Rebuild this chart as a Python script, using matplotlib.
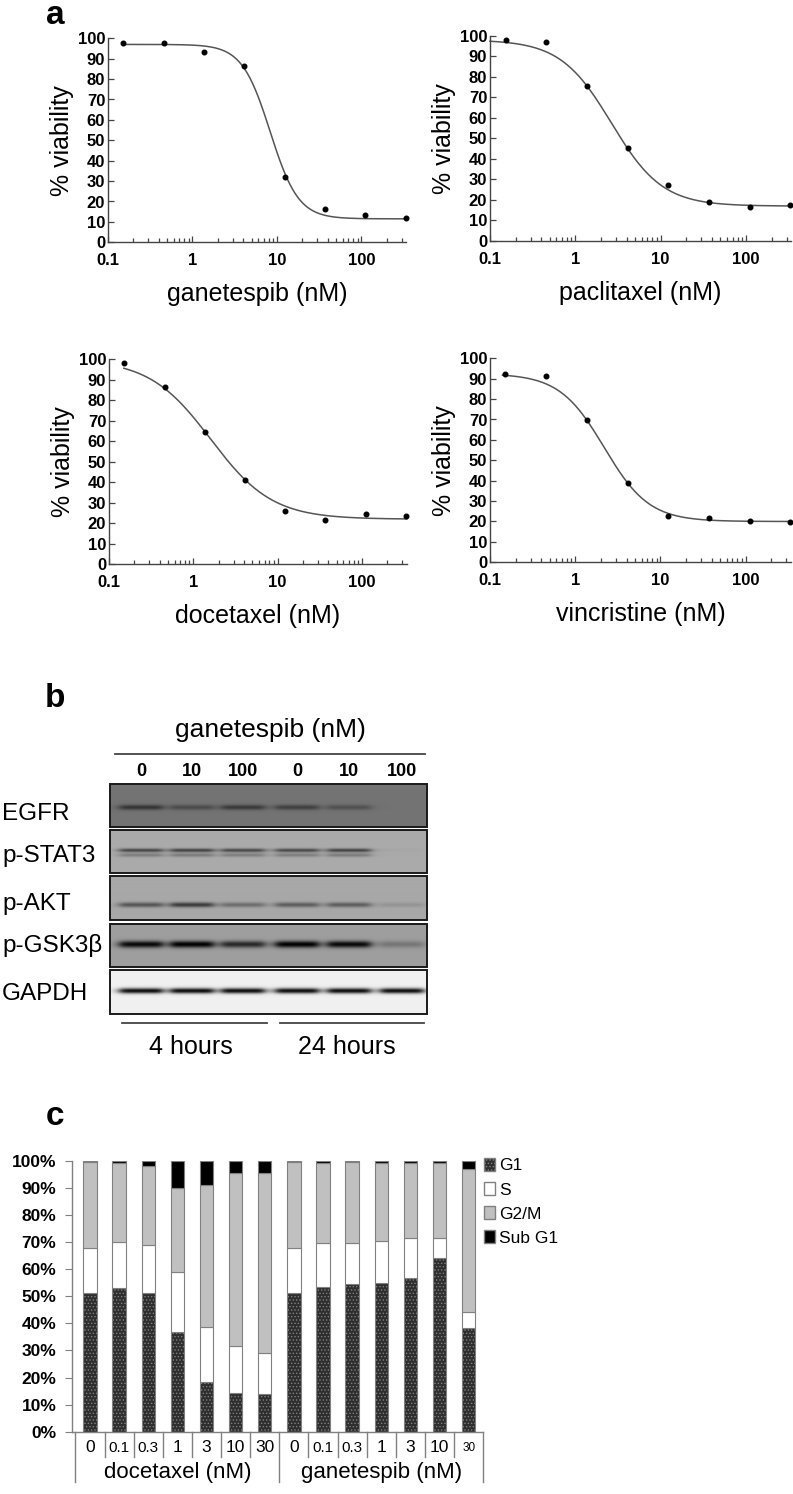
import numpy as np
import matplotlib
matplotlib.use('Agg')
import matplotlib.pyplot as plt
from matplotlib.patches import Rectangle, Patch

plt.rcParams['font.family'] = ['Liberation Sans', 'DejaVu Sans']
plt.rcParams['hatch.linewidth'] = 0.6

W, H = 793, 1494

# ---- panel a: viability vs dose ----
doses = [0.152, 0.457, 1.37, 4.12, 12.3, 37.0, 111, 333]
ganetespib_viab = [97.5, 97.7, 93.1, 86.6, 32.2, 16.2, 13.4, 12.0]
paclitaxel_viab = [98.1, 96.7, 75.5, 45.1, 27.1, 18.8, 16.7, 17.4]
docetaxel_viab = [98.0, 86.3, 64.7, 41.3, 25.9, 21.8, 24.6, 23.5]
vincristine_viab = [92.2, 91.3, 69.6, 38.9, 22.5, 21.6, 20.3, 19.6]
# fitted curves: top, bottom, IC50 (nM), hill slope
ganetespib_fit = [97.0, 11.5, 8.3, 2.6]
paclitaxel_fit = [98.0, 17.0, 2.65, 1.45]
docetaxel_fit = [100.0, 22.0, 1.61, 1.19]
vincristine_fit = [92.5, 20.0, 2.19, 1.65]
drug_names = ['ganetespib', 'paclitaxel', 'docetaxel', 'vincristine']

# ---- panel b: western blot ----
lane_labels = ['0', '10', '100', '0', '10', '100']
blot_rows = ['EGFR', 'p-STAT3', 'p-AKT', 'p-GSK3β', 'GAPDH']
egfr_bands = [0.55, 0.35, 0.5, 0.45, 0.3, 0.0]
pstat3_bands = [0.6, 0.62, 0.58, 0.58, 0.62, 0.03]
pakt_bands = [0.5, 0.65, 0.35, 0.45, 0.45, 0.12]
pgsk3b_bands = [0.95, 1.0, 0.75, 1.0, 0.95, 0.25]
gapdh_bands = [0.95, 0.95, 0.95, 0.95, 0.95, 0.95]
blot_background = [0.45, 0.67, 0.66, 0.62, 0.94]
time_labels = ['4 hours', '24 hours']

# ---- panel c: cell cycle ----
cc_doses = ['0', '0.1', '0.3', '1', '3', '10', '30']
cc_groups = ['docetaxel (nM)', 'ganetespib (nM)']
g1 = [51.3, 52.9, 51.3, 36.9, 18.5, 14.1, 13.8, 51.3, 53.5, 54.4, 55.0, 56.6, 64.2, 38.4]
s_phase = [16.6, 17.2, 17.5, 22.0, 20.2, 17.6, 15.1, 16.6, 16.0, 15.1, 15.5, 14.7, 7.1, 5.6]
g2m = [31.5, 28.9, 29.2, 30.9, 52.3, 63.6, 66.7, 31.5, 29.5, 29.9, 28.5, 28.0, 28.0, 52.9]
sub_g1 = [0.6, 1.0, 2.0, 10.2, 9.0, 4.7, 4.4, 0.6, 1.0, 0.6, 1.0, 0.7, 0.7, 3.1]


def rect(x0, x1, ytop, ybot):
    return [x0 / W, 1 - ybot / H, (x1 - x0) / W, (ybot - ytop) / H]


def four_pl(x, top, bottom, ic50, hill):
    return bottom + (top - bottom) / (1 + (x / ic50) ** hill)


fig = plt.figure(figsize=(W / 100, H / 100), dpi=100)

# panel letters
for letter, yb in [('a', 24), ('b', 707), ('c', 1125)]:
    fig.text(55 / W, 1 - yb / H, letter, fontsize=24, fontweight='bold',
             ha='center', va='baseline')

# ---- panel a ----
a_boxes = [(108, 406.4, 38.3, 242.3), (490, 791.2, 35.7, 241),
           (109, 406.7, 359.3, 564.3), (490, 791, 358.3, 562.3)]
a_viab = [ganetespib_viab, paclitaxel_viab, docetaxel_viab, vincristine_viab]
a_fits = [ganetespib_fit, paclitaxel_fit, docetaxel_fit, vincristine_fit]
curve_start = [0.15, 0.1, 0.15, 0.14]

for box, viab, fit, name, x_start in zip(a_boxes, a_viab, a_fits, drug_names, curve_start):
    ax = fig.add_axes(rect(*box))
    xs = np.logspace(np.log10(x_start), np.log10(340), 400)
    ax.plot(xs, four_pl(xs, *fit), color='#555555', lw=1.1, clip_on=False)
    ax.plot(doses, viab, 'o', ms=3.3, color='black', clip_on=False)
    ax.set_xscale('log')
    ax.set_xlim(0.1, 340)
    ax.set_ylim(0, 100)
    ax.set_xticks([0.1, 1, 10, 100])
    ax.set_xticklabels(['0.1', '1', '10', '100'])
    ax.set_yticks(range(0, 101, 10))
    for sp in ['top', 'right']:
        ax.spines[sp].set_visible(False)
    for sp in ['left', 'bottom']:
        ax.spines[sp].set_color('#444444')
        ax.spines[sp].set_linewidth(1.0)
    ax.tick_params(which='both', direction='in', color='#444444', width=0.9)
    ax.tick_params(which='major', length=4, labelsize=12)
    ax.tick_params(which='minor', length=3)
    ax.tick_params(axis='x', pad=8)
    ax.tick_params(axis='y', pad=2)
    for lab in ax.get_xticklabels() + ax.get_yticklabels():
        lab.set_fontweight('bold')
    ax.set_xlabel(f'{name} (nM)', fontsize=18, labelpad=10)
    ax.set_ylabel('% viability', fontsize=18, labelpad=3)
    ax.patch.set_alpha(0)

# ---- panel b ----
axb = fig.add_axes(rect(0, W, 660, 1070))
axb.axis('off')

lane_x = [141, 192, 243, 297, 349, 402]
blot_x0, blot_x1 = 110, 427
row_boxes = [(784, 827), (830, 873), (876, 920), (924, 967), (970, 1014)]
band_rows = [[0.54], [0.47, 0.58], [0.66], [0.47], [0.47]]
band_weights = [[1.0], [1.0, 0.45], [1.0], [1.0], [1.0]]
band_sigma = [1.8, 1.3, 1.7, 2.4, 1.9]
row_bands = [egfr_bands, pstat3_bands, pakt_bands, pgsk3b_bands, gapdh_bands]
label_base = [820, 862, 910, 952, 1000]

axb.text(270, 737, 'ganetespib (nM)', fontsize=19, ha='center', va='baseline')
axb.plot([115, 425], [754, 754], color='#444444', lw=1.3)
for x, lab in zip(lane_x, lane_labels):
    axb.text(x, 776, lab, fontsize=13, fontweight='bold', ha='center', va='baseline')

for (yt, yb), bands, bg, rows, wts, sig, name, lb in zip(
        row_boxes, row_bands, blot_background, band_rows, band_weights,
        band_sigma, blot_rows, label_base):
    h = int(yb - yt) * 4
    w = int(blot_x1 - blot_x0) * 4
    yy, xx = np.mgrid[0:h, 0:w]
    yy = yy / 4.0
    xx = xx / 4.0 + blot_x0
    dark = np.zeros((h, w))
    for x_c, d in zip(lane_x, bands):
        hprof = 1.0 / (1.0 + ((xx - x_c) / 22.0) ** 8)
        for frac, wt in zip(rows, wts):
            yc = frac * (yb - yt)
            dark += d * wt * hprof * np.exp(-0.5 * ((yy - yc) / sig) ** 2)
    img = bg * (1 - np.clip(dark, 0, 1))
    axb.imshow(img, cmap='gray', vmin=0, vmax=1, extent=(blot_x0, blot_x1, yb, yt),
               aspect='auto', interpolation='bilinear')
    axb.add_patch(Rectangle((blot_x0, yt), blot_x1 - blot_x0, yb - yt,
                            fill=False, edgecolor='#1a1a1a', lw=1.4))
    axb.text(2, lb, name, fontsize=17.5, ha='left', va='baseline')

axb.plot([122, 267], [1023, 1023], color='#444444', lw=1.3)
axb.plot([280, 424], [1023, 1023], color='#444444', lw=1.3)
axb.text(191, 1054, time_labels[0], fontsize=18, ha='center', va='baseline')
axb.text(347, 1054, time_labels[1], fontsize=18, ha='center', va='baseline')
axb.set_xlim(0, W)
axb.set_ylim(1070, 660)

# ---- panel c ----
axc = fig.add_axes(rect(71.7, 483.3, 1160.7, 1431.7))
n = len(g1)
xk = np.arange(n)
bw = 0.46
edge = '#808080'
axc.bar(xk, g1, bw, color='#2e2e2e', edgecolor=edge, hatch='.....', lw=0.8)
bot = np.array(g1)
axc.bar(xk, s_phase, bw, bottom=bot, color='white', edgecolor=edge, lw=0.8)
bot = bot + np.array(s_phase)
axc.bar(xk, g2m, bw, bottom=bot, color='#c0c0c0', edgecolor=edge, lw=0.8)
bot = bot + np.array(g2m)
axc.bar(xk, sub_g1, bw, bottom=bot, color='black', edgecolor=edge, lw=0.8)

axc.set_xlim(-0.628, n - 0.5)
axc.set_ylim(0, 100)
axc.set_yticks(range(0, 101, 10))
axc.set_yticklabels([f'{v}%' for v in range(0, 101, 10)])
axc.set_xticks([])
for sp in ['top', 'right']:
    axc.spines[sp].set_visible(False)
for sp in ['left', 'bottom']:
    axc.spines[sp].set_color(edge)
    axc.spines[sp].set_linewidth(1.0)
axc.tick_params(axis='y', direction='out', length=5, color=edge, labelsize=12.5, pad=6)
for lab in axc.get_yticklabels():
    lab.set_fontweight('bold')
axc.patch.set_alpha(0)

trans = axc.get_xaxis_transform()
for b in np.arange(-0.5, n, 1.0):
    long_line = (b == -0.5) or (b == n - 0.5) or (b == len(cc_doses) - 0.5)
    y_end = -0.184 if long_line else -0.092
    axc.plot([b, b], [0, y_end], color=edge, lw=1.0, transform=trans, clip_on=False)

for k in range(n):
    lab = cc_doses[k % len(cc_doses)]
    fs = 12.5
    if lab in ('0.1', '0.3'):
        fs = 11
    if k == n - 1:
        fs = 8.5
    axc.text(k, -0.06, lab, fontsize=fs, ha='center', va='center', transform=trans)
for gi, gname in enumerate(cc_groups):
    cx = gi * len(cc_doses) + (len(cc_doses) - 1) / 2
    axc.text(cx, -0.152, gname, fontsize=16, ha='center', va='center', transform=trans)

handles = [Patch(facecolor='#2e2e2e', edgecolor=edge, hatch='.....', label='G1'),
           Patch(facecolor='white', edgecolor=edge, label='S'),
           Patch(facecolor='#c0c0c0', edgecolor=edge, label='G2/M'),
           Patch(facecolor='black', edgecolor=edge, label='Sub G1')]
fig.legend(handles=handles, loc='upper left', bbox_to_anchor=(484 / W, 1 - 1158 / H),
           frameon=False, fontsize=12.5, handlelength=0.65, handleheight=0.75,
           handletextpad=0.2, labelspacing=0.5, borderpad=0, borderaxespad=0)

fig.savefig('out.png', dpi=100)
